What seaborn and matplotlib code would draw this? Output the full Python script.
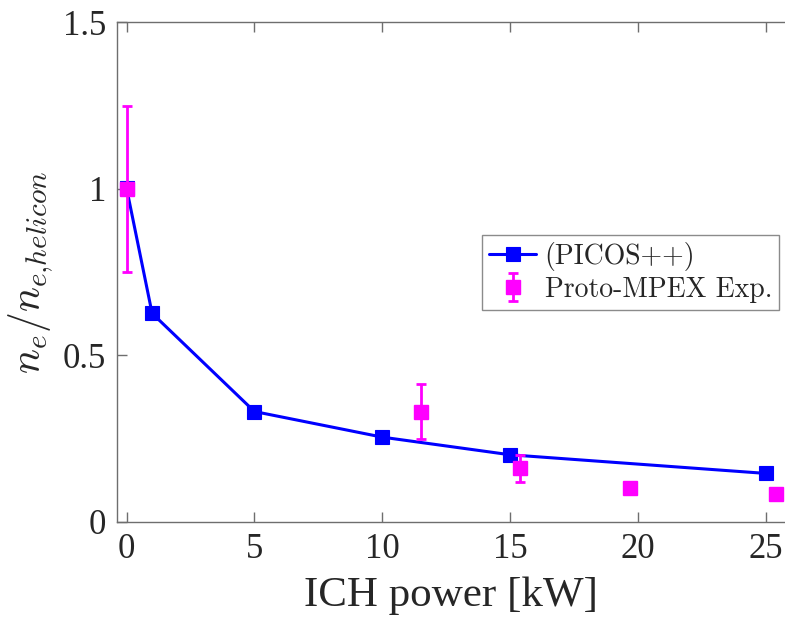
import matplotlib
matplotlib.use("Agg")
import matplotlib.pyplot as plt
import seaborn as sns
import pandas as pd

# ---- data ----
picos_power = [0, 1, 5, 10, 15, 25]
picos_ratio = [1.003, 0.626, 0.331, 0.254, 0.201, 0.145]

exp_power = [0.0, 11.5, 15.4, 19.7, 25.4]
exp_ratio = [1.0, 0.331, 0.160, 0.102, 0.084]
exp_err = [0.25, 0.084, 0.040, 0.014, 0.008]

x_ticks = [0, 5, 10, 15, 20, 25]
y_ticks = [0, 0.5, 1, 1.5]
y_tick_labels = ["0", "0.5", "1", "1.5"]

legend_picos = "(PICOS++)"
legend_exp = "Proto-MPEX Exp."
x_label = "ICH power [kW]"
y_label = r"$n_e/n_{e{,}helicon}$"

# ---- style ----
sns.set_theme(style="ticks")
plt.rcParams["font.family"] = ["Liberation Serif", "DejaVu Serif"]
plt.rcParams["mathtext.fontset"] = "cm"

W, H = 785, 620
fig = plt.figure(figsize=(W / 100, H / 100), dpi=100)
ax = fig.add_axes([117.3 / W, (H - 521.7) / H, 1 - 117.3 / W, (521.7 - 22.4) / H])

df = pd.DataFrame({"power": picos_power, "ratio": picos_ratio})
sns.lineplot(data=df, x="power", y="ratio", ax=ax, color="#0000FF", linewidth=2.2,
             marker="s", markersize=10.5, markeredgecolor="#0000FF", markeredgewidth=0.8,
             errorbar=None, sort=False, label=legend_picos, zorder=3)

ax.errorbar(exp_power, exp_ratio, yerr=exp_err, fmt="s", color="#FF00FF",
            ecolor="#FF00FF", markersize=10.5, markeredgecolor="#FF00FF",
            elinewidth=2.0, capsize=3.8, capthick=2.0, label=legend_exp, zorder=4)

ax.set_xlim(-0.36, 25.74)
ax.set_ylim(0, 1.5)
ax.set_xticks(x_ticks)
ax.set_xticklabels([str(t) for t in x_ticks])
ax.set_yticks(y_ticks)
ax.set_yticklabels(y_tick_labels)

spine_col = "#6e6e6e"
for s in ["left", "bottom", "top"]:
    ax.spines[s].set_visible(True)
    ax.spines[s].set_color(spine_col)
    ax.spines[s].set_linewidth(1.0)
ax.spines["right"].set_visible(False)

ax.tick_params(axis="both", direction="in", length=7, width=1.0, color=spine_col,
               labelsize=25, labelcolor="#262626", pad=8)
ax.tick_params(axis="x", top=True, labeltop=False)
ax.tick_params(axis="y", right=False)

ax.set_xlabel(x_label, fontsize=31, color="#262626", labelpad=8)
ax.set_ylabel(y_label, fontsize=30, color="#262626", labelpad=6)

leg = ax.legend(handles=ax.get_legend_handles_labels()[0],
                loc="upper right", bbox_to_anchor=(779 / W, 1 - 235 / H),
                bbox_transform=fig.transFigure,
                prop={"family": "cmr10", "size": 20},
                frameon=True, fancybox=False, edgecolor="#6e6e6e",
                handlelength=1.7, handletextpad=0.3, borderpad=0.25,
                labelspacing=0.2, borderaxespad=0)
leg.get_frame().set_linewidth(1.0)

fig.savefig("out.png", dpi=100)
